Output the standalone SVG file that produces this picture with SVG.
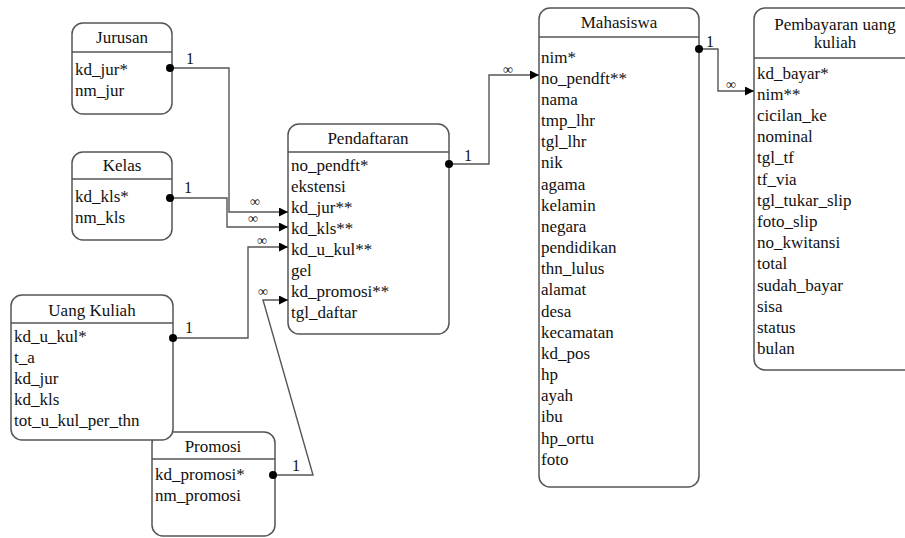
<svg xmlns="http://www.w3.org/2000/svg" width="905" height="538" viewBox="0 0 905 538" font-family="'Liberation Serif', 'DejaVu Serif', 'Times New Roman', serif">
<defs>
<style>
.box{fill:#fff;stroke:#555;stroke-width:1.5}
.hl{stroke:#555;stroke-width:1.5}
text{font-family:'Liberation Serif','DejaVu Serif','Times New Roman',serif;font-size:17px;fill:#111}
.t{text-anchor:middle}
.lbl{font-size:16px}
.inf{font-size:14px;text-anchor:middle}
.c{fill:none;stroke:#555;stroke-width:1.4}
.dot{fill:#000}
</style>
<marker id="arr" markerWidth="10" markerHeight="9" refX="9" refY="4.5" orient="auto" markerUnits="userSpaceOnUse">
<path d="M0,0 L9,4.5 L0,9 Z" fill="#000"/>
</marker>
</defs>
<rect width="905" height="538" fill="#fff"/>

<g id="jurusan">
<rect class="box" x="72" y="23" width="100" height="91" rx="11"/>
<line class="hl" x1="72" y1="52" x2="172" y2="52"/>
<text class="t" x="122" y="43">Jurusan</text>
<text x="75" y="75">kd_jur*</text>
<text x="75" y="96">nm_jur</text>
</g>

<g id="kelas">
<rect class="box" x="72" y="152" width="100" height="88" rx="11"/>
<line class="hl" x1="72" y1="179" x2="172" y2="179"/>
<text class="t" x="122" y="171">Kelas</text>
<text x="75" y="202">kd_kls*</text>
<text x="75" y="223">nm_kls</text>
</g>

<g id="promosi">
<rect class="box" x="152" y="432" width="123" height="104" rx="11"/>
<line class="hl" x1="152" y1="459" x2="275" y2="459"/>
<text class="t" x="213" y="452">Promosi</text>
<text x="155" y="480">kd_promosi*</text>
<text x="155" y="501">nm_promosi</text>
</g>

<g id="uang-kuliah">
<rect class="box" x="11" y="295" width="162" height="145" rx="11"/>
<line class="hl" x1="11" y1="323" x2="173" y2="323"/>
<text class="t" x="92" y="316">Uang Kuliah</text>
<text x="14" y="342">kd_u_kul*</text>
<text x="14" y="363">t_a</text>
<text x="14" y="384">kd_jur</text>
<text x="14" y="405">kd_kls</text>
<text x="14" y="426">tot_u_kul_per_thn</text>
</g>

<g id="pendaftaran">
<rect class="box" x="288" y="124" width="161" height="210" rx="11"/>
<line class="hl" x1="288" y1="152" x2="449" y2="152"/>
<text class="t" x="368" y="144">Pendaftaran</text>
<text x="291" y="171">no_pendft*</text>
<text x="291" y="192">ekstensi</text>
<text x="291" y="213">kd_jur**</text>
<text x="291" y="234">kd_kls**</text>
<text x="291" y="255">kd_u_kul**</text>
<text x="291" y="276">gel</text>
<text x="291" y="297">kd_promosi**</text>
<text x="291" y="318">tgl_daftar</text>
</g>

<g id="mahasiswa">
<rect class="box" x="539" y="8" width="160" height="479" rx="11"/>
<line class="hl" x1="539" y1="37" x2="699" y2="37"/>
<text class="t" x="619" y="28">Mahasiswa</text>
<text x="541" y="62.5">nim*</text>
<text x="541" y="83.7">no_pendft**</text>
<text x="541" y="104.8">nama</text>
<text x="541" y="126">tmp_lhr</text>
<text x="541" y="147.2">tgl_lhr</text>
<text x="541" y="168.4">nik</text>
<text x="541" y="189.5">agama</text>
<text x="541" y="210.7">kelamin</text>
<text x="541" y="231.9">negara</text>
<text x="541" y="253">pendidikan</text>
<text x="541" y="274.2">thn_lulus</text>
<text x="541" y="295.4">alamat</text>
<text x="541" y="316.5">desa</text>
<text x="541" y="337.7">kecamatan</text>
<text x="541" y="358.9">kd_pos</text>
<text x="541" y="380">hp</text>
<text x="541" y="401.2">ayah</text>
<text x="541" y="422.4">ibu</text>
<text x="541" y="443.5">hp_ortu</text>
<text x="541" y="464.7">foto</text>
</g>

<g id="pembayaran">
<rect class="box" x="754" y="8" width="162" height="362" rx="11"/>
<line class="hl" x1="754" y1="58" x2="916" y2="58"/>
<text class="t" x="835" y="30">Pembayaran uang</text>
<text class="t" x="835" y="48">kuliah</text>
<text x="757" y="78.5">kd_bayar*</text>
<text x="757" y="99.7">nim**</text>
<text x="757" y="120.9">cicilan_ke</text>
<text x="757" y="142.1">nominal</text>
<text x="757" y="163.3">tgl_tf</text>
<text x="757" y="184.5">tf_via</text>
<text x="757" y="205.7">tgl_tukar_slip</text>
<text x="757" y="226.9">foto_slip</text>
<text x="757" y="248.1">no_kwitansi</text>
<text x="757" y="269.3">total</text>
<text x="757" y="290.5">sudah_bayar</text>
<text x="757" y="311.7">sisa</text>
<text x="757" y="332.9">status</text>
<text x="757" y="354.1">bulan</text>
</g>

<g id="connectors">
<path class="c" d="M172 68 H229 V212 H288" marker-end="url(#arr)"/>
<path class="c" d="M172 198 H227 V227 H288" marker-end="url(#arr)"/>
<path class="c" d="M173 338 H248 V247 H288" marker-end="url(#arr)"/>
<path class="c" d="M274 475 H313 L263 300 H288" marker-end="url(#arr)"/>
<path class="c" d="M449 164 H489 V75 H539" marker-end="url(#arr)"/>
<path class="c" d="M699 49 H718 V91 H754" marker-end="url(#arr)"/>
<circle class="dot" cx="170" cy="68" r="4"/>
<circle class="dot" cx="170" cy="198" r="4"/>
<circle class="dot" cx="173" cy="338" r="4"/>
<circle class="dot" cx="273" cy="475" r="4"/>
<circle class="dot" cx="449" cy="164" r="4"/>
<circle class="dot" cx="699" cy="49" r="4"/>
<text class="lbl" x="186" y="64">1</text>
<text class="lbl" x="184" y="193">1</text>
<text class="lbl" x="185" y="333">1</text>
<text class="lbl" x="292" y="471">1</text>
<text class="lbl" x="464" y="161">1</text>
<text class="lbl" x="706" y="47">1</text>
<text class="inf" x="255" y="206">∞</text>
<text class="inf" x="253" y="223">∞</text>
<text class="inf" x="262" y="245">∞</text>
<text class="inf" x="263" y="296">∞</text>
<text class="inf" x="508" y="74">∞</text>
<text class="inf" x="731" y="89">∞</text>
</g>
</svg>
